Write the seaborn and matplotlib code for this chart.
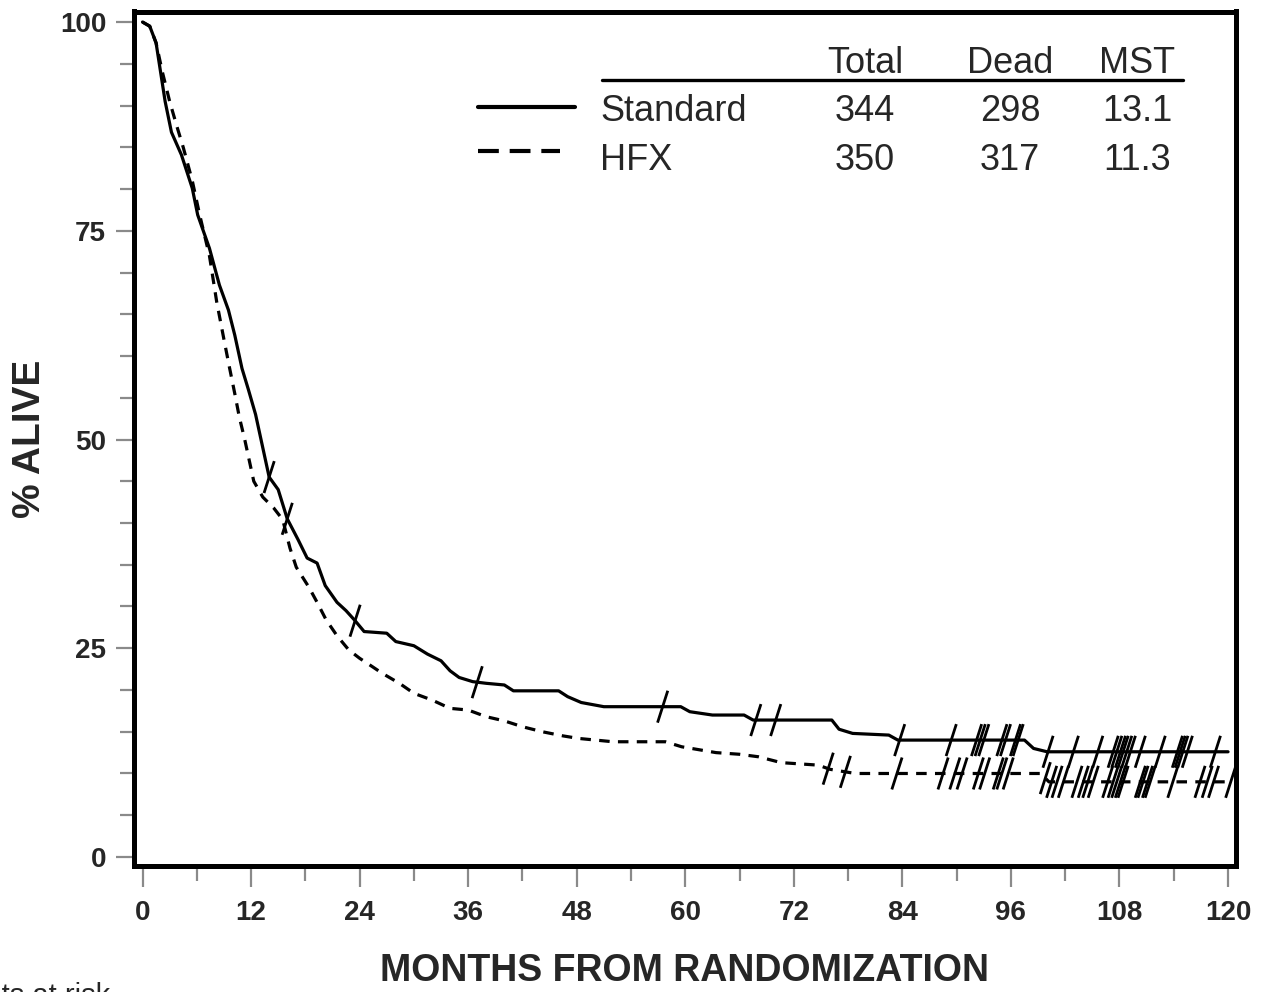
import numpy as np
import pandas as pd
import matplotlib
matplotlib.use("Agg")
import matplotlib.pyplot as plt
import seaborn as sns
from matplotlib.path import Path
from matplotlib.ticker import MultipleLocator

# survival curves (months, % alive)
std_month = [0, 0.8, 1.5, 2.0, 2.5, 3.2, 4.3, 5.5, 6.1, 7.4, 8.5, 9.5, 10.2, 11.0, 11.7,
             12.5, 13.1, 14.0, 15.0, 16.0, 17.2, 18.2, 19.3, 20.2, 21.5, 22.5, 23.5, 24.5,
             27.0, 28.0, 30.0, 31.5, 33.0, 34.0, 35.0, 36.5, 38.0, 40.0, 41.0, 46.0, 47.0,
             48.5, 51.0, 59.5, 60.5, 63.0, 66.5, 67.5, 76.2, 77.0, 78.5, 82.5, 83.5, 97.5,
             98.5, 100.0, 120.0]
std_alive = [100, 99.5, 97.5, 94.0, 90.5, 86.8, 84.1, 80.1, 76.9, 72.9, 68.5, 65.5, 62.5, 58.5, 56.0,
             53.0, 50.0, 45.5, 44.0, 40.5, 38.0, 35.8, 35.2, 32.5, 30.5, 29.5, 28.3, 27.0,
             26.8, 25.8, 25.3, 24.3, 23.5, 22.3, 21.5, 21.0, 20.8, 20.6, 19.9, 19.9, 19.2,
             18.5, 18.0, 18.0, 17.4, 17.0, 17.0, 16.4, 16.4, 15.3, 14.8, 14.6, 14.0, 14.0,
             13.0, 12.6, 12.6]

hfx_month = [0, 0.8, 1.5, 2.2, 3.0, 3.8, 4.5, 5.5, 6.3, 7.4, 8.2, 9.0, 9.6, 10.2, 10.7,
             11.3, 12.3, 13.3, 14.5, 15.5, 16.3, 17.0, 18.4, 19.3, 20.3, 21.5, 22.8, 24.0,
             25.4, 26.5, 28.4, 30.0, 32.0, 34.0, 36.0, 38.0, 40.0, 42.0, 44.2, 46.5, 48.2,
             52.0, 57.8, 59.6, 63.4, 66.0, 68.1, 70.6, 74.7, 76.0, 78.8, 99.3, 100.2, 120.3]
hfx_alive = [100, 99.5, 97.5, 94.0, 90.5, 87.5, 85.0, 81.0, 77.0, 72.0, 66.5, 62.0, 58.7, 55.5, 52.7,
             50.0, 45.0, 43.1, 41.8, 40.4, 37.0, 34.7, 32.3, 30.5, 28.4, 26.5, 24.8, 23.8,
             22.8, 22.0, 20.8, 19.6, 18.8, 17.8, 17.6, 16.8, 16.3, 15.6, 15.0, 14.5, 14.2,
             13.8, 13.8, 13.2, 12.5, 12.3, 12.0, 11.3, 11.0, 10.5, 10.0, 10.0, 9.0, 9.0]

# censoring times
std_censor = [14.0, 16.0, 23.5, 37.0, 57.5, 67.8, 70.0, 83.7, 89.4, 92.2, 92.6, 93.0, 95.0,
              95.4, 96.5, 96.8, 100.1, 102.9, 105.6, 107.3, 107.7, 108.1, 108.4, 108.8,
              109.2, 110.3, 112.5, 114.4, 114.7, 115.0, 115.5, 118.6]
hfx_censor = [75.8, 77.7, 83.4, 88.5, 89.8, 90.6, 92.4, 93.1, 94.6, 95.0, 95.7, 99.8, 100.5,
              101.1, 101.8, 103.3, 104.0, 104.5, 105.1, 106.7, 107.3, 107.7, 108.1, 108.4,
              110.3, 110.6, 111.1, 111.4, 113.9, 116.9, 117.7, 118.4, 120.3]

arms = ["Standard", "HFX"]
totals = [344, 350]
deads = [298, 317]
msts = ["13.1", "11.3"]

sns.set_style("ticks")
plt.rcParams["font.family"] = ["Liberation Sans", "DejaVu Sans"]

fig = plt.figure(figsize=(12.7, 9.92), dpi=100)
W, H = 1270, 992
L, R, T, B = 134, 1236, 11.5, 865.5
ax = fig.add_axes([L / W, 1 - B / H, (R - L) / W, (B - T) / H])

std = pd.DataFrame({"month": std_month, "alive": std_alive})
hfx = pd.DataFrame({"month": hfx_month, "alive": hfx_alive})
sns.lineplot(data=std, x="month", y="alive", color="black", lw=2.3, sort=False,
             estimator=None, ax=ax)
sns.lineplot(data=hfx, x="month", y="alive", color="black", lw=2.3, sort=False,
             estimator=None, ax=ax, linestyle=(0, (3.3, 2.6)))

# censor marks: slanted strokes on the curves
tick_mark = Path([(-0.16, -0.5), (0.16, 0.5)], [Path.MOVETO, Path.LINETO])
std_c = pd.DataFrame({"month": std_censor,
                      "alive": np.interp(std_censor, std_month, std_alive)})
hfx_c = pd.DataFrame({"month": hfx_censor,
                      "alive": np.interp(hfx_censor, hfx_month, hfx_alive)})
for d in (std_c, hfx_c):
    sns.scatterplot(data=d, x="month", y="alive", marker=tick_mark, s=23 ** 2,
                    edgecolor="black", facecolor="none", linewidth=2.0, ax=ax,
                    legend=False, clip_on=False)

ax.set_xlim(-0.94, 120.88)
ax.set_ylim(-1.02, 101.26)
ax.set_xticks(range(0, 121, 12))
ax.set_yticks([0, 25, 50, 75, 100])
ax.xaxis.set_minor_locator(MultipleLocator(6))
ax.yaxis.set_minor_locator(MultipleLocator(5))
ax.tick_params(axis="x", which="major", length=15, width=1.6, color="#8a8a8a",
               labelsize=20, pad=10)
ax.tick_params(axis="x", which="minor", length=11, width=1.6, color="#8a8a8a")
ax.tick_params(axis="y", which="major", length=13, width=1.6, color="#8a8a8a",
               labelsize=20, pad=7)
ax.tick_params(axis="y", which="minor", length=10, width=1.6, color="#8a8a8a")
for lab in ax.get_xticklabels() + ax.get_yticklabels():
    lab.set_fontweight("bold")
for sp in ax.spines.values():
    sp.set_linewidth(3.6)
    sp.set_color("black")
    sp.set_visible(True)

ax.set_xlabel("MONTHS FROM RANDOMIZATION", fontsize=27, fontweight="bold", va="top")
ax.xaxis.set_label_coords(0.4995, -0.103)
ax.set_ylabel("% ALIVE", fontsize=28, fontweight="bold")
ax.yaxis.set_label_coords(-0.078, 0.4994)


def fx(px):
    return (px - L) / (R - L)


def fy(py):
    return (B - py) / (B - T)


# legend table
col_x = [fx(865), fx(1010), fx(1137)]
for cx, head in zip(col_x, ["Total", "Dead", "MST"]):
    ax.text(cx, fy(73), head, transform=ax.transAxes, ha="center", va="baseline",
            fontsize=26)
ax.plot([fx(602), fx(1183)], [fy(80), fy(80)], transform=ax.transAxes,
        color="black", lw=2.4, clip_on=False)
row_y = [fy(121), fy(170)]
sample_y = [fy(107), fy(151)]
styles = ["-", (0, (5, 2.6))]
ends = [fx(575), fx(560)]
for i, arm in enumerate(arms):
    ax.plot([fx(478), ends[i]], [sample_y[i], sample_y[i]], transform=ax.transAxes,
            color="black", lw=3.0, linestyle=styles[i])
    ax.text(fx(600), row_y[i], arm, transform=ax.transAxes, ha="left",
            va="baseline", fontsize=26)
    for cx, val in zip(col_x, [str(totals[i]), str(deads[i]), msts[i]]):
        ax.text(cx, row_y[i], val, transform=ax.transAxes, ha="center",
                va="baseline", fontsize=26)

# cut-off text at the bottom-left edge, as in the source figure
fig.text(110 / W, 1 - 982 / H, "Patients at risk", ha="right", va="top", fontsize=21)

fig.savefig("out.png", dpi=100)
